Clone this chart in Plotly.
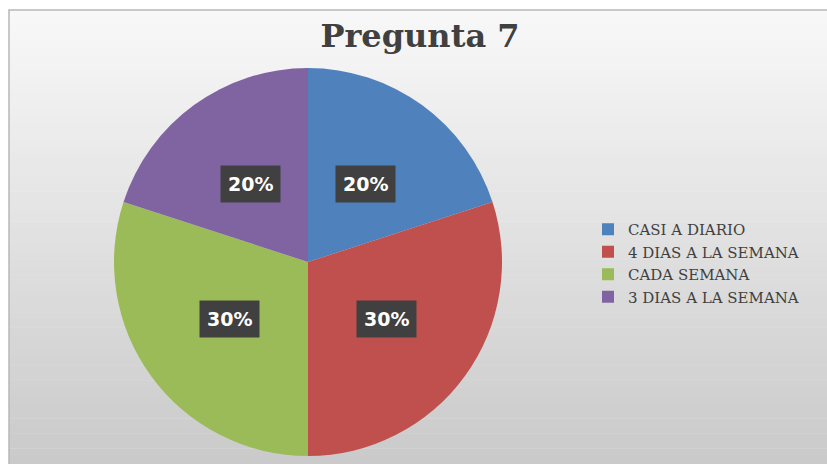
import math
import plotly.graph_objects as go

labels = ["CASI A DIARIO", "4 DIAS A LA SEMANA", "CADA SEMANA", "3 DIAS A LA SEMANA"]
values = [20, 30, 30, 20]
colors = ["#4f81bd", "#c0504d", "#9bbb59", "#8064a2"]

W, H = 827, 464
cx_px, cy_px, r_px = 308, 262, 194

fig = go.Figure()
fig.add_trace(go.Pie(
    labels=labels, values=values, sort=False, direction="clockwise", rotation=0,
    marker=dict(colors=colors, line=dict(width=0)),
    textinfo="none", hoverinfo="label+percent",
    domain=dict(x=[(cx_px - r_px) / W, (cx_px + r_px) / W],
                y=[1 - (cy_px + r_px) / H, 1 - (cy_px - r_px) / H]),
))

# gradient background panel with border
shapes = []
x0p, y0p = 9 / W, 1 - 10 / H
n = 60
top = (248, 248, 248)
bot = (202, 202, 202)
for i in range(n):
    t = i / (n - 1)
    c = tuple(int(round(top[k] + (bot[k] - top[k]) * t)) for k in range(3))
    ya = y0p - y0p * i / n
    yb = y0p - y0p * (i + 1) / n
    shapes.append(dict(type="rect", xref="paper", yref="paper", x0=x0p, x1=1, y0=yb, y1=ya + 0.001,
                       fillcolor="rgb(%d,%d,%d)" % c, line=dict(width=0), layer="below"))
shapes.append(dict(type="rect", xref="paper", yref="paper", x0=x0p, x1=1.01, y0=-0.01, y1=y0p,
                   fillcolor="rgba(0,0,0,0)", line=dict(color="#b8b8b8", width=1.5), layer="below"))

# percentage labels in dark boxes
annotations = []
total = sum(values)
cum = 0
for v in values:
    mid = (cum + v / 2) / total * 2 * math.pi
    cum += v
    k = 0.5
    xp = cx_px + k * r_px * math.sin(mid)
    yp = cy_px - k * r_px * math.cos(mid)
    annotations.append(dict(x=xp / W, y=1 - yp / H, xref="paper", yref="paper", showarrow=False,
                            xanchor="center", yanchor="middle",
                            text="<b>%d%%</b>" % round(v / total * 100),
                            font=dict(family="DejaVu Sans", size=19, color="white"),
                            bgcolor="#404040", borderpad=7))

fig.update_layout(
    width=W, height=H,
    margin=dict(l=0, r=0, t=0, b=0),
    paper_bgcolor="white", plot_bgcolor="white",
    title=dict(text="<b>Pregunta 7</b>", x=420 / W, xanchor="center", y=1 - 36 / H, yanchor="middle",
               font=dict(family="DejaVu Serif", size=32, color="#404040")),
    legend=dict(x=588 / W, y=1 - 213 / H, xanchor="left", yanchor="top",
                font=dict(family="DejaVu Serif", size=15, color="#404040"),
                bgcolor="rgba(0,0,0,0)", tracegroupgap=0, itemwidth=30),
    shapes=shapes, annotations=annotations,
)

fig.write_html("out.html", config={"displayModeBar": False},
               post_script="document.body.style.margin='0';")
